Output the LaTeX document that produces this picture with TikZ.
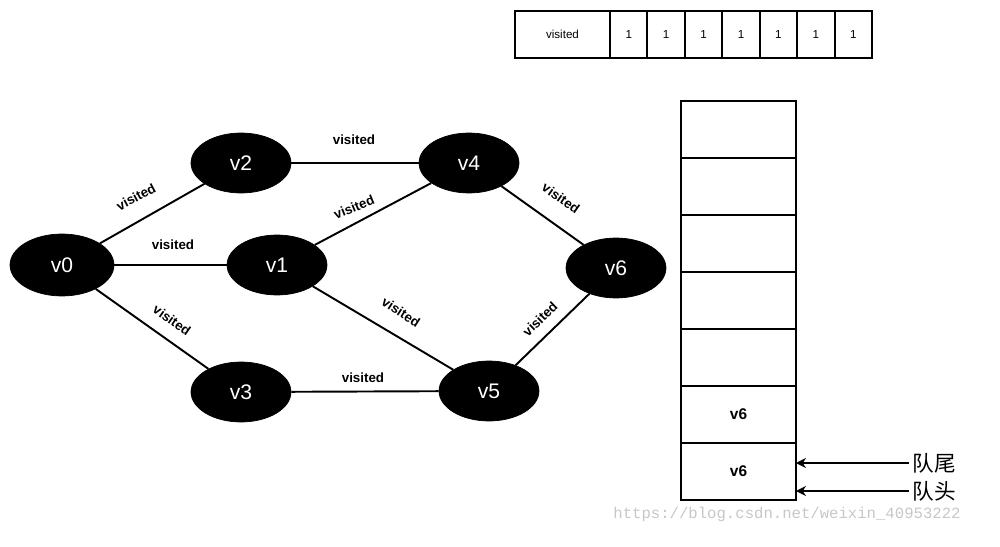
\documentclass[tikz,border=0pt]{standalone}
\usepackage{fontspec}
\setmainfont{Liberation Sans}
\newfontfamily\cjk{Noto Sans CJK SC}
\newfontfamily\wmfont{Liberation Mono}
\usetikzlibrary{shapes.geometric,arrows.meta}

\tikzset{
  vertex/.style={ellipse, fill=black, draw=black, text=white, inner sep=0pt,
    minimum width=2cm, minimum height=1.2cm, font=\fontsize{12}{14}\selectfont},
  link/.style={line width=1.1pt, black},
  elabel/.style={font=\bfseries\fontsize{7.6}{9}\selectfont, inner sep=0pt},
  cell/.style={draw=black, line width=1.1pt, inner sep=0pt, outer sep=0pt,
    minimum height=0.94cm, font=\fontsize{6.6}{8}\selectfont},
  qcell/.style={draw=black, line width=1.1pt, inner sep=0pt, outer sep=0pt,
    minimum width=2.3cm, minimum height=1.14cm, font=\bfseries\fontsize{8.8}{10}\selectfont},
  qlabel/.style={font=\cjk\fontsize{12.3}{14}\selectfont, inner sep=2pt},
  pointer/.style={line width=1.1pt, -{Stealth[length=2mm,width=2mm]}}
}

\begin{document}
\begin{tikzpicture}[x=0.02cm, y=-0.02cm]
  \useasboundingbox (0,0) rectangle (1000,547);

  % graph vertices
  \node[vertex, minimum width=2.08cm, minimum height=1.24cm] (v0) at (62,265) {v0};
  \node[vertex] (v2) at (241,163) {v2};
  \node[vertex] (v4) at (469,163) {v4};
  \node[vertex] (v1) at (277,265) {v1};
  \node[vertex] (v6) at (616,268) {v6};
  \node[vertex] (v3) at (241,392) {v3};
  \node[vertex] (v5) at (489,391) {v5};

  % edges
  \draw[link] (v0) -- (v2);
  \draw[link] (v0) -- (v1);
  \draw[link] (v0) -- (v3);
  \draw[link] (v2) -- (v4);
  \draw[link] (v1) -- (v4);
  \draw[link] (v1) -- (v5);
  \draw[link] (v3) -- (v5);
  \draw[link] (v4) -- (v6);
  \draw[link] (v5) -- (v6);

  % edge labels
  \node[elabel, rotate=28]  (l02) at (136,197) {visited};
  \node[elabel]             (l01) at (173,245) {visited};
  \node[elabel, rotate=-35] (l03) at (172,320) {visited};
  \node[elabel]             (l24) at (354,140) {visited};
  \node[elabel, rotate=22]  (l14) at (354,207) {visited};
  \node[elabel, rotate=-33] (l15) at (401,312) {visited};
  \node[elabel]             (l35) at (363,378) {visited};
  \node[elabel, rotate=-35] (l46) at (561,198) {visited};
  \node[elabel, rotate=44]  (l56) at (540,319) {visited};

  % visited array
  \node[cell, minimum width=1.9cm] (a0) at (562.5,34.5) {visited};
  \foreach \i in {1,...,7} {
    \node[cell, minimum width=0.7486cm] (a\i) at ({610+37.43*(\i-0.5)},34.5) {1};
  }

  % queue
  \foreach \i in {1,...,5} {
    \node[qcell] (q\i) at (738.5,{101+57*(\i-0.5)}) {};
  }
  \node[qcell] (q6) at (738.5,{101+57*5.5}) {v6};
  \node[qcell] (q7) at (738.5,{101+57*6.5}) {v6};

  % queue pointers
  \node[qlabel] (tail) at (934,463) {队尾};
  \node[qlabel] (head) at (934,491) {队头};
  \draw[pointer] (tail.west) -- (tail.west -| q7.east);
  \draw[pointer] (head.west) -- (head.west -| q7.east);

  % source watermark
  \node[text=black!22, font=\wmfont\fontsize{8.9}{10}\selectfont, inner sep=0pt]
    (wm) at (787,514) {https://blog.csdn.net/weixin\_40953222};
\end{tikzpicture}
\end{document}
